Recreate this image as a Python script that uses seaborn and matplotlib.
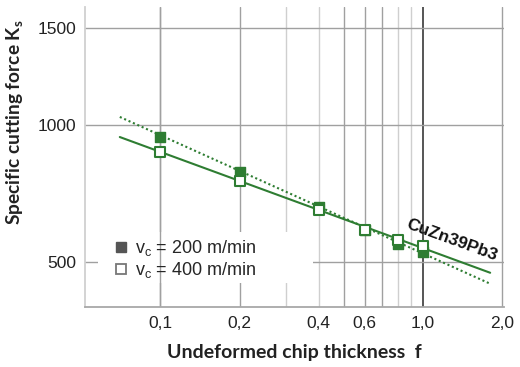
import numpy as np
import pandas as pd
import matplotlib.pyplot as plt
import seaborn as sns
from matplotlib.lines import Line2D
from matplotlib.patches import Rectangle

# data
thickness = [0.1, 0.2, 0.4, 0.6, 0.8, 1.0]
kc_200 = [948, 805, 677, 598, 554, 530]   # filled squares, vc = 200 m/min
kc_400 = [885, 771, 666, 599, 567, 548]   # open squares, vc = 400 m/min
fit_x = [0.07, 1.8]
fit_200 = [1037, 437]                      # dotted
fit_400 = [948, 468]                       # solid

x_ticks = [0.1, 0.2, 0.4, 0.6, 1.0, 2.0]
x_ticklabels = ["0,1", "0,2", "0,4", "0,6", "1,0", "2,0"]
x_grid = [0.1, 0.2, 0.3, 0.4, 0.5, 0.6, 0.7, 0.8, 0.9, 1.0, 2.0]
y_ticks = [500, 1000, 1500]

GREEN = "#2e7d32"

sns.set_theme(style="white")
plt.rcParams["font.family"] = ["Liberation Sans", "DejaVu Sans"]

df = pd.DataFrame({"f": thickness + thickness,
                   "kc": kc_200 + kc_400,
                   "vc": ["200"] * len(thickness) + ["400"] * len(thickness)})

fig = plt.figure(figsize=(5.2, 3.67), dpi=100)
ax = fig.add_axes([0.1635, 0.163, 0.8055, 0.818])

ax.set_xscale("log")
ax.set_yscale("function", functions=(lambda y: np.log10(np.clip(y + 500, 1e-3, None)),
                                     lambda v: 10 ** v - 500))
ax.set_xlim(0.0516, 2.03)
ax.set_ylim(374, 1630)

# grid drawn by hand
light = {0.3: "#cfcfcf", 0.4: "#cfcfcf", 0.8: "#cfcfcf", 0.9: "#cfcfcf", 1.0: "#555555"}
for xv in x_grid:
    ax.axvline(xv, color=light.get(xv, "#a0a0a0"), lw=1.0 if xv != 1.0 else 1.4, zorder=0.5)
for yv in y_ticks:
    ax.axhline(yv, color="#a0a0a0", lw=1.0, zorder=0.5)

# white patch behind the legend
ax.add_patch(Rectangle((0.031, 0.08), 0.513, 0.17, transform=ax.transAxes,
                       facecolor="white", edgecolor="none", zorder=1))
ax.axvline(0.1, color="#a0a0a0", lw=1.0, zorder=1.5)

sns.lineplot(x=fit_x, y=fit_400, ax=ax, color=GREEN, lw=1.5, zorder=2)
sns.lineplot(x=fit_x, y=fit_200, ax=ax, color=GREEN, lw=1.5, ls=(0, (1, 1.3)), zorder=2)

sub = df[df["vc"] == "200"]
sns.scatterplot(data=sub, x="f", y="kc", ax=ax, marker="s", s=55, color=GREEN,
                edgecolor=GREEN, linewidth=1, zorder=3, legend=False)
sub = df[df["vc"] == "400"]
sns.scatterplot(data=sub, x="f", y="kc", ax=ax, marker="s", s=55, color="white",
                edgecolor=GREEN, linewidth=1.5, zorder=4, legend=False)

ax.text(1.28, 567, "CuZn39Pb3", rotation=-20, ha="center", va="center",
        rotation_mode="anchor", fontsize=12.5, fontweight="bold", color="#111111", zorder=5)

handles = [Line2D([], [], ls="", marker="s", ms=7, color="#555555", mec="#555555"),
           Line2D([], [], ls="", marker="s", ms=7, mfc="white", mec="#777777", mew=1.3)]
labels = [r"v$_\mathregular{c}$ = 200 m/min", r"v$_\mathregular{c}$ = 400 m/min"]
ax.legend(handles, labels, loc="upper left", bbox_to_anchor=(0.07, 0.23), frameon=False,
          handlelength=0.7, handletextpad=0.45, borderaxespad=0, borderpad=0,
          labelspacing=0.1, fontsize=13)

ax.set_xticks(x_ticks)
ax.set_xticklabels(x_ticklabels)
ax.xaxis.set_minor_locator(plt.NullLocator())
ax.set_yticks(y_ticks)
ax.set_yticklabels([str(v) for v in y_ticks])
ax.yaxis.set_minor_locator(plt.NullLocator())
ax.tick_params(axis="both", length=0, labelsize=12.5, colors="#222222", pad=6)

for side in ["top", "right"]:
    ax.spines[side].set_visible(False)
ax.spines["left"].set_color("#d0d0d0")
ax.spines["bottom"].set_color("#a8a8a8")
ax.spines["left"].set_linewidth(1.3)
ax.spines["bottom"].set_linewidth(1.3)

ax.set_xlabel("Undeformed chip thickness  f", fontsize=14, fontweight="bold",
              family=["Lato", "DejaVu Sans"], color="#222222", labelpad=10)
ax.set_ylabel(r"Specific cutting force K$_\mathregular{s}$", fontsize=13.8, fontweight="bold",
              family=["Lato", "DejaVu Sans"], color="#222222")
ax.yaxis.set_label_coords(-0.14, 0.615)

fig.savefig("out.png", dpi=100)
